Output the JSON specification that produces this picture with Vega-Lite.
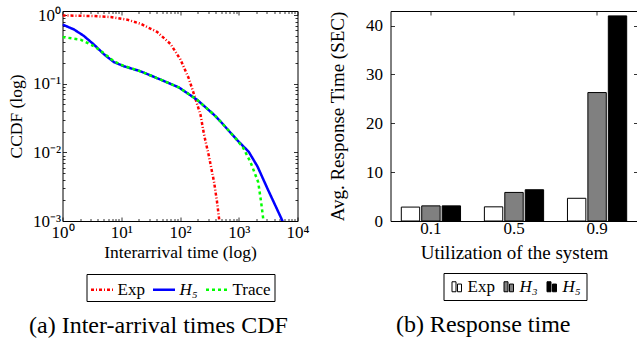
{
  "$schema": "https://vega.github.io/schema/vega-lite/v6.json",
  "background": "white",
  "padding": {"left": 6.5, "top": 5, "right": 0, "bottom": 0},
  "autosize": {"type": "pad"},
  "spacing": 18,
  "config": {
    "font": "Liberation Serif",
    "view": {"stroke": "black", "strokeWidth": 1},
    "axis": {"labelFont": "Liberation Serif", "titleFont": "Liberation Serif", "labelFontSize": 17, "titleFontSize": 17.5, "titleFontWeight": "normal", "labelColor": "black", "titleColor": "black", "tickColor": "black", "tickWidth": 0.8, "domain": false, "grid": false, "labelFlush": false, "labelOverlap": false},
    "legend": {"labelFont": "Liberation Serif", "labelFontSize": 17, "labelColor": "black"},
    "title": {"font": "Liberation Serif", "fontSize": 24, "fontWeight": "normal", "color": "black"}
  },
  "resolve": {"scale": {"color": "independent", "strokeDash": "independent"}, "legend": {"color": "independent", "strokeDash": "independent"}},
  "hconcat": [
    {
      "width": 235,
      "height": 210,
      "title": {"text": "(a) Inter-arrival times CDF", "orient": "bottom", "anchor": "middle", "frame": "bounds", "offset": 12},
      "data": {"values": [
        {"series": "Exp", "x": 1, "y": 0.99},
        {"series": "Exp", "x": 2, "y": 0.98},
        {"series": "Exp", "x": 3.4, "y": 0.97},
        {"series": "Exp", "x": 6.6, "y": 0.94},
        {"series": "Exp", "x": 12.6, "y": 0.86},
        {"series": "Exp", "x": 21.3, "y": 0.75},
        {"series": "Exp", "x": 40.7, "y": 0.57},
        {"series": "Exp", "x": 69, "y": 0.38},
        {"series": "Exp", "x": 102, "y": 0.225},
        {"series": "Exp", "x": 141, "y": 0.12},
        {"series": "Exp", "x": 186, "y": 0.058},
        {"series": "Exp", "x": 224, "y": 0.035},
        {"series": "Exp", "x": 257, "y": 0.018},
        {"series": "Exp", "x": 309, "y": 0.009},
        {"series": "Exp", "x": 380, "y": 0.0037},
        {"series": "Exp", "x": 427, "y": 0.0019},
        {"series": "Exp", "x": 468, "y": 0.001},
        {"series": "Exp", "x": 480, "y": 0.0008},
        {"series": "H₅", "x": 1, "y": 0.73},
        {"series": "H₅", "x": 1.56, "y": 0.62},
        {"series": "H₅", "x": 2.3, "y": 0.5},
        {"series": "H₅", "x": 3.4, "y": 0.375},
        {"series": "H₅", "x": 5.06, "y": 0.27},
        {"series": "H₅", "x": 7.5, "y": 0.207},
        {"series": "H₅", "x": 11.1, "y": 0.18},
        {"series": "H₅", "x": 21.3, "y": 0.152},
        {"series": "H₅", "x": 46.8, "y": 0.115},
        {"series": "H₅", "x": 95.5, "y": 0.0885},
        {"series": "H₅", "x": 195, "y": 0.0585},
        {"series": "H₅", "x": 380, "y": 0.0353},
        {"series": "H₅", "x": 490, "y": 0.0282},
        {"series": "H₅", "x": 933, "y": 0.0152},
        {"series": "H₅", "x": 1480, "y": 0.0102},
        {"series": "H₅", "x": 2090, "y": 0.0062},
        {"series": "H₅", "x": 3090, "y": 0.00295},
        {"series": "H₅", "x": 5500, "y": 0.00102},
        {"series": "H₅", "x": 5800, "y": 0.0009},
        {"series": "Trace", "x": 1, "y": 0.48},
        {"series": "Trace", "x": 2.03, "y": 0.44},
        {"series": "Trace", "x": 3.4, "y": 0.355},
        {"series": "Trace", "x": 5.0, "y": 0.28},
        {"series": "Trace", "x": 7.5, "y": 0.213},
        {"series": "Trace", "x": 11.1, "y": 0.182},
        {"series": "Trace", "x": 21.3, "y": 0.152},
        {"series": "Trace", "x": 46.8, "y": 0.115},
        {"series": "Trace", "x": 95.5, "y": 0.0885},
        {"series": "Trace", "x": 195, "y": 0.0585},
        {"series": "Trace", "x": 380, "y": 0.0353},
        {"series": "Trace", "x": 490, "y": 0.0282},
        {"series": "Trace", "x": 933, "y": 0.0152},
        {"series": "Trace", "x": 1200, "y": 0.0115},
        {"series": "Trace", "x": 1585, "y": 0.0072},
        {"series": "Trace", "x": 2140, "y": 0.0037},
        {"series": "Trace", "x": 2400, "y": 0.0019},
        {"series": "Trace", "x": 2630, "y": 0.00102},
        {"series": "Trace", "x": 2700, "y": 0.0008}
      ]},
      "resolve": {"axis": {"x": "independent", "y": "independent"}},
      "layer": [
        {
          "mark": {"type": "line", "strokeWidth": 2.5, "clip": true},
          "encoding": {
            "x": {"field": "x", "type": "quantitative", "scale": {"type": "log", "domain": [1, 10000], "nice": false},
                  "axis": {"orient": "bottom", "values": [1, 10, 100, 1000, 10000], "labelExpr": "datum.value == 1 ? '10⁰' : datum.value == 10 ? '10¹' : datum.value == 100 ? '10²' : datum.value == 1000 ? '10³' : '10⁴'", "tickSize": -4, "labelPadding": 7, "title": "Interarrival time (log)", "titlePadding": 3}},
            "y": {"field": "y", "type": "quantitative", "scale": {"type": "log", "domain": [0.001, 1.15], "nice": false},
                  "axis": {"orient": "left", "values": [0.001, 0.01, 0.1, 1], "labelExpr": "datum.value >= 0.5 ? '10⁰' : datum.value >= 0.05 ? '10⁻¹' : datum.value >= 0.005 ? '10⁻²' : '10⁻³'", "tickSize": -4, "labelPadding": 6, "title": "CCDF (log)", "titlePadding": 6.5}},
            "color": {"field": "series", "type": "nominal", "sort": null, "scale": {"domain": ["Exp", "H₅", "Trace"], "range": ["#ff0000", "#0000ff", "#00ff00"]},
                      "legend": {"orient": "none", "legendX": 24, "legendY": 263, "direction": "horizontal", "columns": 3, "title": null, "strokeColor": "black", "padding": 3, "symbolType": "stroke", "symbolSize": 484, "symbolStrokeWidth": 2.5, "labelFontSize": 17, "labelOffset": 3, "columnPadding": 2,
                                 "encode": {"labels": {"update": {"fontStyle": {"signal": "datum.label == 'H₅' ? 'italic' : 'normal'"}}}}}},
            "strokeDash": {"field": "series", "type": "nominal", "sort": null, "scale": {"domain": ["Exp", "H₅", "Trace"], "range": [[3, 2, 1, 2], [1, 0], [3, 3]]},
                      "legend": {"orient": "none", "legendX": 24, "legendY": 263, "direction": "horizontal", "columns": 3, "title": null, "strokeColor": "black", "padding": 3, "symbolType": "stroke", "symbolSize": 484, "symbolStrokeWidth": 2.5, "labelFontSize": 17, "labelOffset": 3, "columnPadding": 2,
                                 "encode": {"labels": {"update": {"fontStyle": {"signal": "datum.label == 'H₅' ? 'italic' : 'normal'"}}}}}}
          }
        },
        {
          "mark": {"type": "point", "opacity": 0},
          "encoding": {
            "x": {"field": "x", "type": "quantitative", "axis": {"orient": "bottom", "values": [2,3,4,5,6,7,8,9,20,30,40,50,60,70,80,90,200,300,400,500,600,700,800,900,2000,3000,4000,5000,6000,7000,8000,9000], "labels": false, "tickSize": -2.5, "title": null}},
            "y": {"field": "y", "type": "quantitative", "axis": {"orient": "left", "values": [0.002,0.003,0.004,0.005,0.006,0.007,0.008,0.009,0.02,0.03,0.04,0.05,0.06,0.07,0.08,0.09,0.2,0.3,0.4,0.5,0.6,0.7,0.8,0.9], "labels": false, "tickSize": -2.5, "title": null}}
          }
        },
        {
          "mark": {"type": "point", "opacity": 0},
          "encoding": {
            "x": {"field": "x", "type": "quantitative", "axis": {"orient": "top", "values": [1, 10, 100, 1000, 10000], "labels": false, "tickSize": -4, "title": null}},
            "y": {"field": "y", "type": "quantitative", "axis": {"orient": "right", "values": [0.001, 0.01, 0.1, 1], "labels": false, "tickSize": -4, "title": null}}
          }
        },
        {
          "mark": {"type": "point", "opacity": 0},
          "encoding": {
            "x": {"field": "x", "type": "quantitative", "axis": {"orient": "top", "values": [2,3,4,5,6,7,8,9,20,30,40,50,60,70,80,90,200,300,400,500,600,700,800,900,2000,3000,4000,5000,6000,7000,8000,9000], "labels": false, "tickSize": -2.5, "title": null}},
            "y": {"field": "y", "type": "quantitative", "axis": {"orient": "right", "values": [0.002,0.003,0.004,0.005,0.006,0.007,0.008,0.009,0.02,0.03,0.04,0.05,0.06,0.07,0.08,0.09,0.2,0.3,0.4,0.5,0.6,0.7,0.8,0.9], "labels": false, "tickSize": -2.5, "title": null}}
          }
        }
      ]
    },
    {
      "width": 247,
      "height": 210,
      "title": {"text": "(b) Response time", "orient": "bottom", "anchor": "middle", "frame": "bounds", "offset": 12},
      "data": {"values": [
        {"u": "0.1", "s": "Exp", "v": 2.85},
        {"u": "0.1", "s": "H₃", "v": 3.1},
        {"u": "0.1", "s": "H₅", "v": 3.1},
        {"u": "0.5", "s": "Exp", "v": 2.9},
        {"u": "0.5", "s": "H₃", "v": 5.85},
        {"u": "0.5", "s": "H₅", "v": 6.4},
        {"u": "0.9", "s": "Exp", "v": 4.65},
        {"u": "0.9", "s": "H₃", "v": 26.3},
        {"u": "0.9", "s": "H₅", "v": 42.0}
      ]},
      "resolve": {"axis": {"x": "independent", "y": "independent"}},
      "layer": [
        {
          "mark": {"type": "bar", "stroke": "black", "strokeWidth": 1},
          "encoding": {
            "x": {"field": "u", "type": "nominal", "sort": null, "scale": {"paddingInner": 0.287, "paddingOuter": 0.13},
                  "axis": {"orient": "bottom", "labelAngle": 0, "ticks": false, "labelPadding": -1, "title": "Utilization of the system", "titleFontSize": 19, "titlePadding": 7}},
            "xOffset": {"field": "s", "type": "nominal", "sort": null, "scale": {"paddingInner": 0.1}},
            "y": {"field": "v", "type": "quantitative", "scale": {"domain": [0, 43], "nice": false},
                  "axis": {"orient": "left", "values": [0, 10, 20, 30, 40], "tickSize": -4, "labelPadding": 12, "title": "Avg. Response Time (SEC)", "titleFontSize": 19, "titlePadding": 18}},
            "color": {"field": "s", "type": "nominal", "sort": null, "scale": {"domain": ["Exp", "H₃", "H₅"], "range": ["#ffffff", "#808080", "#000000"]},
                      "legend": {"orient": "none", "legendX": 53, "legendY": 262, "direction": "horizontal", "columns": 3, "title": null, "strokeColor": "black", "padding": 5, "symbolType": "M-1,-1H-0.2V1H-1Z M0.1,-0.54H0.9V1H0.1Z", "symbolSize": 100, "symbolStrokeColor": "black", "symbolStrokeWidth": 1, "symbolOpacity": 1, "labelFontSize": 17, "labelOffset": 2, "columnPadding": 5,
                                 "encode": {"labels": {"update": {"fontStyle": {"signal": "datum.label == 'Exp' ? 'normal' : 'italic'"}}}}}}
          }
        },
        {
          "mark": {"type": "point", "opacity": 0, "clip": true},
          "encoding": {
            "x": {"field": "u", "type": "nominal", "sort": null, "axis": {"orient": "top", "labels": false, "tickSize": -4, "title": null}},
            "y": {"field": "v", "type": "quantitative", "stack": null, "axis": {"orient": "right", "values": [0, 10, 20, 30, 40], "labels": false, "tickSize": -4, "title": null}}
          }
        }
      ]
    }
  ]
}
